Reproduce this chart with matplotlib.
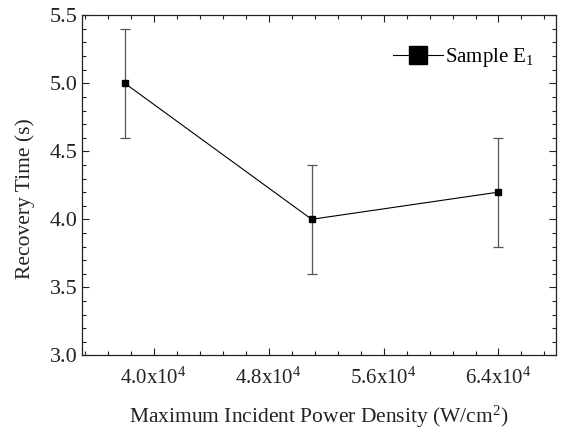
import numpy as np
from matplotlib import pyplot as plt
from matplotlib.ticker import MultipleLocator, FixedLocator, FuncFormatter

plt.rcParams['font.family'] = ['Liberation Serif', 'DejaVu Serif']
plt.rcParams['mathtext.fontset'] = 'custom'
plt.rcParams['mathtext.rm'] = 'Liberation Serif'
plt.rcParams['mathtext.it'] = 'Liberation Serif:italic'

# data
power_density = [3.8e4, 5.1e4, 6.4e4]
recovery_time = [5.0, 4.0, 4.2]
time_err = [0.4, 0.4, 0.4]
series_label = 'Sample E$_1$'
xtick_values = [4.0e4, 4.8e4, 5.6e4, 6.4e4]


def sci_label(v, pos=None):
    return '%.1fx10$^{4}$' % (v / 1e4)


fig = plt.figure(figsize=(5.62, 4.32), dpi=100)
ax = fig.add_axes([0.1454, 0.1775, 0.8439, 0.7871])

ax.errorbar(power_density, recovery_time, yerr=time_err, fmt='none',
            ecolor='#555555', elinewidth=0.9, capsize=3.5, capthick=0.9)
ax.plot(power_density, recovery_time, '-s', color='black', lw=0.8, ms=5,
        label=series_label)

ax.set_xlim(3.5e4, 6.8e4)
ax.set_ylim(3.0, 5.5)
ax.xaxis.set_major_locator(FixedLocator(xtick_values))
ax.xaxis.set_minor_locator(MultipleLocator(0.16e4))
ax.xaxis.set_major_formatter(FuncFormatter(sci_label))
ax.yaxis.set_major_locator(MultipleLocator(0.5))
ax.yaxis.set_minor_locator(MultipleLocator(0.1))
ax.yaxis.set_major_formatter(FuncFormatter(lambda v, p: '%.1f' % v))

ax.tick_params(which='both', direction='in', top=True, right=True,
               width=0.8, colors='#222222')
ax.tick_params(which='major', length=5)
ax.tick_params(which='minor', length=3)
ax.tick_params(axis='x', which='major', labelsize=15, pad=9)
ax.tick_params(axis='y', which='major', labelsize=16, pad=3)
for s in ax.spines.values():
    s.set_linewidth(0.9)
    s.set_color('#222222')

ax.set_xlabel('Maximum Incident Power Density (W/cm$^2$)', fontsize=15.5,
              labelpad=11, color='#222222')
ax.set_ylabel('Recovery Time (s)', fontsize=15.5, color='#222222')
ax.yaxis.set_label_coords(-0.098, 0.46)

ax.legend(loc='upper right', bbox_to_anchor=(0.993, 0.965), frameon=False,
          fontsize=15, markerscale=2.45, handlelength=2.4, handletextpad=0.1,
          borderaxespad=0.5)

fig.savefig('out.png', dpi=100)
